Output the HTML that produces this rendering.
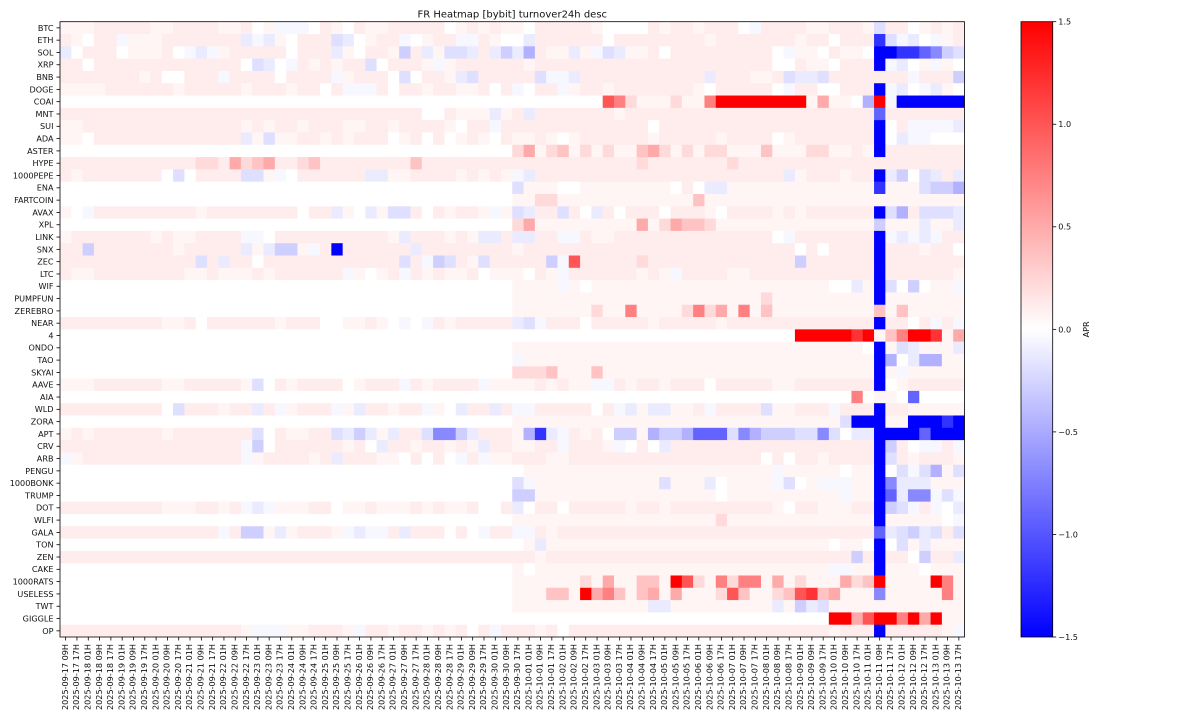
<!DOCTYPE html>
<html>
<head>
<meta charset="utf-8">
<style>
  html,body{margin:0;padding:0;background:#fff;}
  svg{display:block;}
  text{font-family:"DejaVu Sans","Liberation Sans",sans-serif;fill:#111;}
</style>
</head>
<body>
<svg id="chart" xmlns="http://www.w3.org/2000/svg" width="1200" height="720" viewBox="0 0 1200 720">
  <defs>
    <linearGradient id="cbar" x1="0" y1="0" x2="0" y2="1">
      <stop offset="0" stop-color="#ff0000"/>
      <stop offset="0.5" stop-color="#ffffff"/>
      <stop offset="1" stop-color="#0000ff"/>
    </linearGradient>
  </defs>
  <rect x="0" y="0" width="1200" height="720" fill="#fff"/>
  <g id="cells"></g>
  <g id="ticks" stroke="#000" stroke-width="0.8"></g>
  <g id="ylabels" font-size="8.1"></g>
  <g id="xlabels" font-size="8.1"></g>
  <rect x="60" y="21.7" width="904.5" height="615.3" fill="none" stroke="#000" stroke-width="0.8"/>
  <text x="512.25" y="17.3" font-size="10" text-anchor="middle">FR Heatmap [bybit] turnover24h desc</text>
  <!-- colorbar -->
  <rect x="1021" y="21.7" width="31.7" height="615.3" fill="url(#cbar)" stroke="#000" stroke-width="0.8"/>
  <g stroke="#000" stroke-width="0.8">
    <line x1="1052.7" y1="21.7" x2="1056.2" y2="21.7"/>
    <line x1="1052.7" y1="124.25" x2="1056.2" y2="124.25"/>
    <line x1="1052.7" y1="226.8" x2="1056.2" y2="226.8"/>
    <line x1="1052.7" y1="329.35" x2="1056.2" y2="329.35"/>
    <line x1="1052.7" y1="431.9" x2="1056.2" y2="431.9"/>
    <line x1="1052.7" y1="534.45" x2="1056.2" y2="534.45"/>
    <line x1="1052.7" y1="637" x2="1056.2" y2="637"/>
  </g>
  <g font-size="8.1">
    <text x="1058.3" y="24.6">1.5</text>
    <text x="1058.3" y="127.15">1.0</text>
    <text x="1058.3" y="229.7">0.5</text>
    <text x="1058.3" y="332.25">0.0</text>
    <text x="1058.3" y="434.8">−0.5</text>
    <text x="1058.3" y="537.35">−1.0</text>
    <text x="1058.3" y="639.9">−1.5</text>
    <text transform="translate(1089,329.35) rotate(-90)" text-anchor="middle">APR</text>
  </g>
</svg>
<script>
(function(){
  var NS="http://www.w3.org/2000/svg";
  var names=["BTC","ETH","SOL","XRP","BNB","DOGE","COAI","MNT","SUI","ADA","ASTER","HYPE","1000PEPE","ENA","FARTCOIN","AVAX","XPL","LINK","SNX","ZEC","LTC","WIF","PUMPFUN","ZEREBRO","NEAR","4","ONDO","TAO","SKYAI","AAVE","AIA","WLD","ZORA","APT","CRV","ARB","PENGU","1000BONK","TRUMP","DOT","WLFI","GALA","TON","ZEN","CAKE","1000RATS","USELESS","TWT","GIGGLE","OP"];
  var data=[
"1112222211222211201aaa02102|1122222012121102222210000212|212220a2222112221c2201212",
"21022a1112222222bab10222cb0|122a0122aa2100b2222220222222|22122222221220222hcab0a12",
"b0222011120aba1222220222b10|221d2b1ccb2bdbe211b1acb11202|222222220a1102110iihhgfdc",
"22022222222222220cb0a212122|c02221a122222212222222222222|22222222002110222iab01a10",
"22222221200222a222202222a12|220c0221bc22222caab222222222|22b222112cbbc2222222a222d",
"1111222222122222122212202aa|a202212211202a022a1221222222|210222220a2200222iab0ab10",
"0{27}|0{21}7631113|1169999999915110e9aiiiiii",
"2{27}|22222002111b12b2222222122222|2{17}g2{7}",
"112222222222222212122122211|22122221022a2222222222222022|2{17}i02aaaab",
"1102222222222222b1c11221212|2201202012102112101222222122|22212222012222222i0baa000",
"0{27}|0{13}351341313114531|31331114111331121i2222222",
"2{12}332534522342222|22224 2{19}3222|22223 2{20}",
"2122222220c02222cc1a0222222|bb11222212121ab2{13}|222222222b1222122ibd0cb2b",
"0{27}|0{13}c111001{8}0|20bb1{13}h111cdde",
"0{27}|0{13}11331{11}|141{23}",
"10a2{9}12{8}022b10|b1cc2021221a1cb22c20b2022202|22102222121222222ice2cccb",
"0{27}|0{13}351{9}5135|4431{14}d111b11b",
"12{7}12112222aa02{8}|221b222121bb2bb22aa211222222|2{8}0a2{7}iababa22",
"22d2{7}12{5}b1bdd1a2i22|2222b2{8}12{14}|2{10}0202222i2221220",
"2{12}c2b2202{9}|222c2adc21c22222da7222223222|2{10}d2{6}i2{7}",
"2112{8}112111212{6}a1|012a2121120111021a2{6}121a|2222112{11}i2{6}1",
"0{27}|0{13}1111a101{8}|1{13}00b1ic0d011a",
"0{27}|0{13}1{15}|1{7}31{9}i1{7}",
"0{27}|0{13}1{7}31161111|363516141{9}4141{5}",
"2{9}11202{6}12220011|210a0a212{5}bca22202{5}122|22212{13}i2202a2a",
"0{27}|0{28}|0{10}9{5}8914699815",
"0{27}|0{13}1{15}|1{16}0i1cb111b",
"0{27}|0{13}a1{14}|1{17}ie0bee11",
"0{27}|0{13}333411141{7}|1{17}i1a1{5}",
"1112{6}112{5}1c0212{4}01|222a212222a111121211aa212212|2202{5}112{7}i012{5}",
"0{27}|0{28}|0{15}60110g0000",
"2{9}0c222122b2a1222a1b|22122a10b22b2aa2{5}02ab1bb1|12a2222c11222a222i221{5}",
"0{27}|0{13}1{15}|1{14}ciii11iiihi",
"1212{6}12{7}c021122cbd|b1b22cffdb2221ehba2120dd1edd|egggcfedddccfc0bbiiiigiii",
"2{16}ad02{6}12|0b22122121b221122a2221a020b2|2{17}id20aa2a",
"a12{14}a1222212b22|21102020a2a11222112{10}|2{7}0202212222ic212221",
"0{27}|0{14}1{14}|1{8}a1{5}011i0cace1c",
"0{27}|0{13}ca1{11}c1|11b01111ac01aaa11ifbbb111",
"0{27}|0{13}dd1{13}|11101{10}a11igbffaca",
"2{9}1112212aba11122011|2111212112002b02202{5}12212|2{8}102211122idca2a0b",
"0{27}|0{13}1{15}|11131{13}i1{5}0a",
"2{14}a2dd1b12221ab|aa2b222020a22aa212{11}|2{17}gbcdbc2c",
"0{27}|0{14}1b1{12}|1{13}0110i0c1b111",
"2{27}|2{15}12{12}|2{15}d2i220d22b",
"0{27}|0{13}101{13}|1{13}aa11i1110111",
"0{27}|0{13}1{6}315114419|7316366151311153491111961",
"0{27}|0{13}111441956414515|11137411347845111f1111161",
"0{27}|0{13}1{12}bb1|1{8}b1dbc1{12}",
"0{27}|0{28}|0{13}995799695911",
"2{16}1aaa112221a|22122121202a2221202{10}|2{13}1222i2{5}1a"
  ];
  var vals={'0':0,'1':0.06,'2':0.11,'3':0.22,'4':0.35,'5':0.5,'6':0.75,'7':1.0,'8':1.2,'9':1.5,
            'a':-0.05,'b':-0.12,'c':-0.19,'d':-0.28,'e':-0.46,'f':-0.7,'g':-0.92,'h':-1.2,'i':-1.5};
  var SEG=[27,28,25];
  function expand(s){return s.replace(/\s+/g,'').replace(/(.)\{(\d+)\}/g,function(m,c,n){return new Array(+n+1).join(c);});}
  function fix(s,n){ if(s.length>n) return s.slice(0,n); var l=s.length?s[s.length-1]:'0'; while(s.length<n) s+=l; return s; }
  function col(v){
    var t=(v+1.5)/3; if(t<0)t=0; if(t>1)t=1;
    var r,g,b;
    if(t<0.5){ r=g=Math.round(2*t*255); b=255; }
    else { r=255; g=b=Math.round(2*(1-t)*255); }
    return "rgb("+r+","+g+","+b+")";
  }
  var X0=60, Y0=21.7, W=904.5, H=615.3, NC=80, NR=50;
  var cw=W/NC, ch=H/NR;
  var cells=document.getElementById("cells");
  for(var r=0;r<NR;r++){
    var parts=data[r].split('|');
    var s="";
    for(var i=0;i<3;i++){ s+=fix(expand(parts[i]||"0"),SEG[i]); }
    var c=0;
    while(c<NC){
      var k=s[c]; var c2=c;
      while(c2+1<NC && s[c2+1]===k) c2++;
      var v=vals[k]; if(v===undefined) v=0;
      var rect=document.createElementNS(NS,"rect");
      var x=X0+c*cw, y=Y0+r*ch;
      rect.setAttribute("x",x.toFixed(2));
      rect.setAttribute("y",y.toFixed(2));
      rect.setAttribute("width",((c2-c+1)*cw+(c2<NC-1?0.6:0)).toFixed(2));
      rect.setAttribute("height",(ch+(r<NR-1?0.6:0)).toFixed(2));
      rect.setAttribute("fill",col(v));
      cells.appendChild(rect);
      c=c2+1;
    }
  }
  var ticks=document.getElementById("ticks");
  var yl=document.getElementById("ylabels");
  for(var r=0;r<NR;r++){
    var yc=Y0+(r+0.5)*ch;
    var ln=document.createElementNS(NS,"line");
    ln.setAttribute("x1","56.5");ln.setAttribute("x2","60");
    ln.setAttribute("y1",yc.toFixed(2));ln.setAttribute("y2",yc.toFixed(2));
    ticks.appendChild(ln);
    var t=document.createElementNS(NS,"text");
    t.setAttribute("x","53.5");t.setAttribute("y",(yc+2.9).toFixed(2));
    t.setAttribute("text-anchor","end");
    t.textContent=names[r];
    yl.appendChild(t);
  }
  var xl=document.getElementById("xlabels");
  var m=9,d=17,hi=1,HH=["01","09","17"];
  function p2(n){return (n<10?"0":"")+n;}
  for(var c=0;c<NC;c++){
    var lab="2025-"+p2(m)+"-"+p2(d)+" "+HH[hi]+"H";
    hi++; if(hi==3){hi=0;d++; if(m==9&&d==31){m=10;d=1;}}
    var xc=X0+(c+0.5)*cw;
    var ln=document.createElementNS(NS,"line");
    ln.setAttribute("x1",xc.toFixed(2));ln.setAttribute("x2",xc.toFixed(2));
    ln.setAttribute("y1","637");ln.setAttribute("y2","640.5");
    ticks.appendChild(ln);
    var t=document.createElementNS(NS,"text");
    t.setAttribute("transform","translate("+(xc+2.2).toFixed(2)+",644) rotate(-90)");
    t.setAttribute("text-anchor","end");
    t.textContent=lab;
    xl.appendChild(t);
  }
})();
</script>
</body>
</html>
